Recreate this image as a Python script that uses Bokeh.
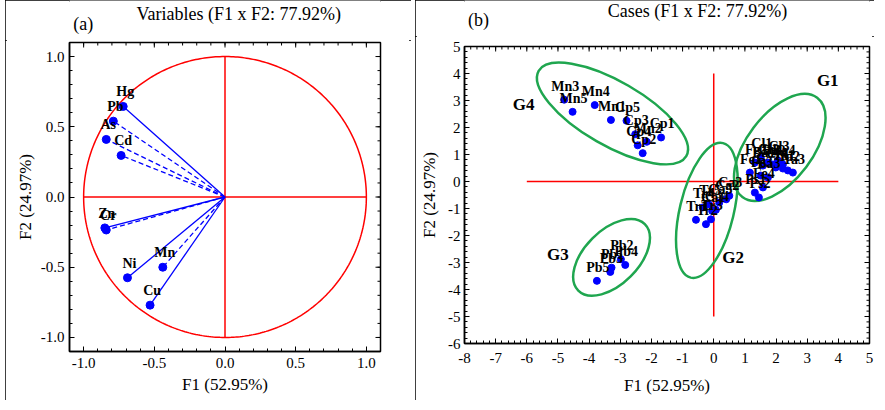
import numpy as np
from bokeh.plotting import figure
from bokeh.models import Range1d, FixedTicker, ColumnDataSource, Spacer
from bokeh.layouts import row, column
from bokeh.embed import file_html
from bokeh.resources import INLINE
from bokeh.core.properties import value

FONT = "Liberation Serif"
BLUE = "#0000ff"
RED = "#ff0000"
GREEN = "#1fa64f"

# ---------------- Panel (a): variables ----------------
var_names = ["Hg", "Pb", "As", "Cd", "Zn", "Cr", "Ni", "Mn", "Cu"]
var_f1 = [-0.72, -0.79, -0.84, -0.735, -0.85, -0.84, -0.69, -0.44, -0.53]
var_f2 = [0.645, 0.54, 0.41, 0.296, -0.22, -0.235, -0.575, -0.50, -0.77]
var_dash = ["solid", "dashed", "dashed", "dashed", "solid", "dashed", "solid", "dashed", "solid"]
a_ticks = [-1.0, -0.5, 0.0, 0.5, 1.0]

# ---------------- Panel (b): cases ----------------
g4_names = ["Mn3", "Mn5", "Mn4", "Mn1", "Cp5", "Cp3", "Cp4", "Cp2", "Mn2", "Cp1"]
g4_f1 = [-4.80, -4.53, -3.82, -3.30, -2.80, -2.52, -2.44, -2.28, -2.15, -1.69]
g4_f2 = [3.03, 2.58, 2.83, 2.28, 2.25, 1.75, 1.34, 1.05, 1.47, 1.63]

g3_names = ["Pb5", "Pb3", "Pb1", "Pb2", "Pb4"]
g3_f1 = [-3.75, -3.32, -3.28, -2.98, -2.84]
g3_f2 = [-3.68, -3.35, -3.19, -2.88, -3.09]

g2_names = ["Tr1", "Tr2", "Tr3", "Ca1", "Ca4", "Ca2", "Ca3", "Ca5", "Tr4", "Tr5"]
g2_f1 = [-0.57, -0.25, -0.09, -0.05, 0.07, 0.40, 0.50, 0.18, -0.35, -0.15]
g2_f2 = [-1.42, -1.58, -1.40, -1.09, -1.05, -0.66, -0.53, -0.78, -0.96, -0.85]

g1_names = ["Fe1", "Fe2", "Cl1", "Ba1", "Cl2", "Ba2", "Cl3", "Ta1", "Ta2", "Ta3",
            "Fe3", "Ba3", "Ps1", "Ps2", "Fe4", "Cl4", "Ba4"]
g1_f1 = [1.16, 1.32, 1.51, 1.58, 1.74, 1.90, 2.06, 2.22, 2.38, 2.54,
         1.51, 1.74, 1.32, 1.45, 1.58, 1.99, 2.22]
g1_f2 = [0.33, 0.70, 0.89, 0.59, 0.70, 0.63, 0.78, 0.48, 0.41, 0.33,
         0.22, 0.15, -0.41, -0.59, -0.22, 0.52, 0.63]

# group ellipses (centre, full axes in x-units / y-units, angle)
grp_names = ["G1", "G2", "G3", "G4"]
grp_cx = [2.12, -0.22, -3.28, -3.25]
grp_cy = [1.26, -1.07, -2.81, 2.52]
grp_w = [3.99, 4.44, 3.02, 5.47]
grp_h = [2.44, 2.00, 2.00, 2.37]
grp_angle = [53, 76.5, 45, -30]
grp_lab_x = [3.66, 0.62, -5.0, -6.1]
grp_lab_y = [3.73, -2.8, -2.69, 2.84]

b_xticks = list(range(-8, 6))
b_yticks = list(range(-6, 6))

# ---------------- layout (pixels) ----------------
TOTAL_H = 400
HEAD_A, HEAD_B = 40, 36
A_W, B_W = 406, 459
BOX_STYLE = {"outline": "2px solid black", "outline-offset": "-2px"}


def style_axis(ax, standoff, label_standoff):
    ax.major_label_text_font = FONT
    ax.major_label_text_font_size = "15px"
    ax.major_label_text_color = "black"
    ax.axis_label_text_font = FONT
    ax.axis_label_text_font_size = "17px"
    ax.axis_label_text_font_style = "normal"
    ax.axis_label_text_color = "black"
    ax.axis_label_standoff = label_standoff
    ax.axis_line_color = "black"
    ax.axis_line_width = 1.5
    ax.major_tick_in = 5
    ax.major_tick_out = 0
    ax.minor_tick_in = 3
    ax.minor_tick_out = 0
    ax.major_tick_line_color = "black"
    ax.minor_tick_line_color = "black"
    ax.major_label_standoff = standoff


def setup(p, xr, yr, xt, yt, xminor, yminor, xlab, ylab, xs, ys, xls, yls):
    bx = p.below[0]
    ly = p.left[0]
    style_axis(bx, xs, xls)
    style_axis(ly, ys, yls)
    bx.ticker = FixedTicker(ticks=xt, minor_ticks=xminor)
    ly.ticker = FixedTicker(ticks=yt, minor_ticks=yminor)
    bx.major_label_overrides = {t: xlab(t) for t in xt}
    ly.major_label_overrides = {t: ylab(t) for t in yt}
    # mirrored inward ticks on the top and right frame edges (half clipped by the frame)
    p.scatter(xt, [yr[1]] * len(xt), marker="dash", angle=np.pi / 2, size=10,
              line_color="black", line_width=1)
    p.scatter(xminor, [yr[1]] * len(xminor), marker="dash", angle=np.pi / 2, size=6,
              line_color="black", line_width=1)
    p.scatter([xr[1]] * len(yt), yt, marker="dash", size=10, line_color="black", line_width=1)
    p.scatter([xr[1]] * len(yminor), yminor, marker="dash", size=6,
              line_color="black", line_width=1)
    p.xgrid.visible = False
    p.ygrid.visible = False
    p.outline_line_color = "black"
    p.outline_line_width = 1.5


def header(w, hh, tag, tag_x, tag_y, title, title_x, title_y):
    h = figure(width=w, height=hh, x_range=Range1d(0, w), y_range=Range1d(hh, 0),
               title=None, x_axis_type=None, y_axis_type=None, output_backend="svg",
               toolbar_location=None, min_border=0, outline_line_color=None)
    h.grid.visible = False
    h.text([tag_x], [tag_y], text=[tag], text_font=value(FONT), text_font_size="18px",
           text_align="left", text_baseline="middle", text_color="black")
    h.text([title_x], [title_y], text=[title], text_font=value(FONT), text_font_size="18px",
           text_align="center", text_baseline="middle", text_color="black")
    return h


# ---------- figure (a) ----------
a_xr = (-1.1, 1.1)
a_yr = (-1.1, 1.1)
p1 = figure(width=A_W, height=TOTAL_H - HEAD_A, x_range=Range1d(*a_xr), y_range=Range1d(*a_yr),
            x_axis_label="F1 (52.95%)", y_axis_label="F2 (24.97%)",
            title=None, output_backend="svg", toolbar_location=None,
            min_border_left=64, min_border_right=31, min_border_top=2, min_border_bottom=49)
minor_a = list(np.round(np.arange(-1.1, 1.101, 0.1), 2))
setup(p1, a_xr, a_yr, a_ticks, a_ticks, minor_a, minor_a,
      lambda t: f"{t:.1f}", lambda t: f"{t:.1f}", 6, 5, 4, 3)

theta = np.linspace(0, 2 * np.pi, 400)
p1.line(np.cos(theta), np.sin(theta), line_color=RED, line_width=1.5)
p1.line([-1, 1], [0, 0], line_color=RED, line_width=1.5)
p1.line([0, 0], [-1, 1], line_color=RED, line_width=1.5)

for x, y, d in zip(var_f1, var_f2, var_dash):
    p1.line([0, x], [0, y], line_color=BLUE, line_width=1.3,
            line_dash=("solid" if d == "solid" else "5 3"))
src_a = ColumnDataSource(dict(x=var_f1, y=var_f2, t=var_names))
p1.scatter("x", "y", source=src_a, size=8, color=BLUE)
p1.text("x", "y", text="t", source=src_a, text_font=value(FONT), text_font_size="14px",
        text_font_style="bold", text_align="center", text_baseline="bottom",
        x_offset=2, y_offset=-7, text_color="black")

head_a = header(A_W, HEAD_A, "(a)", 5, 23, "Variables (F1 x F2: 77.92%)", 221, 13)
panel_a = column(head_a, p1, styles=BOX_STYLE)

# ---------- figure (b) ----------
b_xr = (-8, 5)
b_yr = (-6, 5)
p2 = figure(width=B_W, height=TOTAL_H - HEAD_B, x_range=Range1d(*b_xr), y_range=Range1d(*b_yr),
            x_axis_label="F1 (52.95%)", y_axis_label="F2 (24.97%)",
            title=None, output_backend="svg", toolbar_location=None,
            min_border_left=49, min_border_right=5, min_border_top=10, min_border_bottom=57)
setup(p2, b_xr, b_yr, b_xticks, b_yticks, list(np.round(np.arange(-8, 5.01, 0.2), 2)),
      list(np.round(np.arange(-6, 5.01, 0.2), 2)), str, str, 9, 4, 10, 6)

p2.line([-6, 4], [0, 0], line_color=RED, line_width=1.5)
p2.line([0, 0], [-5, 4], line_color=RED, line_width=1.5)

p2.ellipse(x=grp_cx, y=grp_cy, width=grp_w, height=grp_h, angle=grp_angle, angle_units="deg",
           fill_color=None, line_color=GREEN, line_width=2.5)

all_names = g4_names + g3_names + g2_names + g1_names
all_f1 = g4_f1 + g3_f1 + g2_f1 + g1_f1
all_f2 = g4_f2 + g3_f2 + g2_f2 + g1_f2
src_b = ColumnDataSource(dict(x=all_f1, y=all_f2, t=all_names))
p2.scatter("x", "y", source=src_b, size=7, color=BLUE)
p2.text("x", "y", text="t", source=src_b, text_font=value(FONT), text_font_size="14px",
        text_font_style="bold", text_align="center", text_baseline="bottom",
        x_offset=1, y_offset=-6, text_color="black")

p2.text(grp_lab_x, grp_lab_y, text=grp_names, text_font=value(FONT), text_font_size="17px",
        text_font_style="bold", text_align="center", text_baseline="middle", text_color="black")

head_b = header(B_W, HEAD_B, "(b)", 4, 19, "Cases (F1 x F2: 77.92%)", 264, 10)
panel_b = column(head_b, p2, styles=BOX_STYLE)

layout = row(Spacer(width=5), panel_a, Spacer(width=4), panel_b,
             styles={"vertical-align": "top", "margin-bottom": "-8px"})
open("out.html", "w").write(file_html(layout, INLINE))
